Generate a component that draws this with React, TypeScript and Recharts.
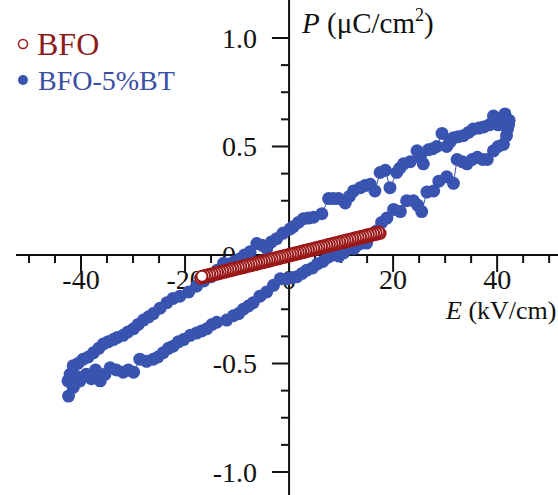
import { ReferenceDot, ReferenceLine, Scatter, ScatterChart, XAxis, YAxis } from "recharts";

// BFO-5%BT loop: upper branch (field going down), then lower branch (field going up)
const btUpper: [number, number][] = [
  [42.3, 0.62], [42.0, 0.58], [41.5, 0.65], [41.0, 0.63], [40.2, 0.6], [39.3, 0.64],
  [38.5, 0.6], [37.4, 0.59], [36.5, 0.585], [35.4, 0.58], [34.5, 0.565], [33.5, 0.55],
  [32.5, 0.545], [31.6, 0.54], [30.9, 0.52], [30.3, 0.5], [29.4, 0.56], [28.4, 0.5],
  [27.6, 0.49], [26.8, 0.485], [25.8, 0.42], [25.2, 0.45], [24.6, 0.48], [23.3, 0.43],
  [22.0, 0.42], [21.3, 0.4], [20.7, 0.38], [19.4, 0.31], [18.5, 0.39], [17.5, 0.38],
  [16.5, 0.295], [15.6, 0.326], [14.6, 0.32], [13.7, 0.31], [12.4, 0.295], [11.6, 0.27],
  [10.8, 0.24], [9.5, 0.26], [8.5, 0.26], [7.6, 0.26], [6.3, 0.19], [4.7, 0.174],
  [3.7, 0.17], [2.75, 0.167], [1.8, 0.15], [0.8, 0.13], [0.2, 0.12], [-1.2, 0.1],
  [-2.4, 0.075], [-3.4, 0.06], [-4.3, 0.03], [-5.2, 0.045], [-6.2, 0.053], [-7.5, 0.015],
  [-8.6, 0.0], [-9.6, -0.02], [-10.5, -0.03], [-11.3, -0.04], [-12.6, -0.038], [-13.8, -0.07],
  [-15, -0.1], [-16.4, -0.12], [-17.8, -0.144], [-19.3, -0.17], [-21, -0.19], [-22.3, -0.2],
  [-23.5, -0.22], [-24.8, -0.245], [-26.1, -0.27], [-27, -0.285], [-28, -0.3], [-29, -0.32],
  [-29.9, -0.34], [-31, -0.355], [-31.9, -0.37], [-33, -0.38], [-33.8, -0.39], [-34.8, -0.4],
  [-35.7, -0.41], [-36.6, -0.43], [-37.6, -0.45], [-38.6, -0.47], [-39.6, -0.48], [-40.6, -0.5],
  [-41.5, -0.51], [-42.1, -0.55], [-42.5, -0.58], [-42.4, -0.65], [-41.5, -0.61], [-40.8, -0.56],
];

const btLower: [number, number][] = [
  [-41, -0.59], [-40.2, -0.58], [-39, -0.55], [-38, -0.57], [-37.2, -0.53], [-36.3, -0.58],
  [-35.4, -0.55], [-34.4, -0.52], [-33.2, -0.53], [-31.9, -0.54], [-30.9, -0.53], [-29.9, -0.54],
  [-28.7, -0.48], [-27.4, -0.49], [-26.1, -0.48], [-25.2, -0.47], [-24.2, -0.45], [-23.2, -0.43],
  [-22.3, -0.42], [-21.3, -0.4], [-20.3, -0.39], [-19, -0.37], [-17.8, -0.36], [-16.8, -0.35],
  [-15.8, -0.34], [-14.8, -0.32], [-13.9, -0.31], [-12, -0.3], [-10.7, -0.28], [-9.7, -0.27],
  [-8.8, -0.25], [-7.8, -0.235], [-6.9, -0.22], [-5.6, -0.19], [-4.3, -0.17], [-3, -0.14],
  [-1.7, -0.11], [-0.4, -0.11], [0.6, -0.105], [1.5, -0.1], [2.5, -0.085], [3.4, -0.07],
  [4.5, -0.06], [5.5, -0.04], [6.5, -0.03], [7.5, -0.01], [8.5, 0.0], [9.6, -0.005],
  [10.5, 0.01], [11.4, 0.04], [12.5, 0.03], [13.5, 0.05], [14.9, 0.055], [15.8, 0.09],
  [16.8, 0.11], [17.8, 0.15], [18.8, 0.17], [20.1, 0.21], [21.4, 0.2], [22.6, 0.25],
  [23.9, 0.25], [24.7, 0.23], [25.5, 0.2], [26.5, 0.29], [27.8, 0.295], [28.8, 0.34],
  [30.3, 0.36], [31.6, 0.33], [32.3, 0.44], [33.3, 0.43], [34.2, 0.42], [35.2, 0.44],
  [36.2, 0.45], [37.2, 0.44], [38.1, 0.44], [39.3, 0.48], [40.2, 0.5], [41.2, 0.51],
  [41.8, 0.55], [42.2, 0.6],
];

// BFO: very slim loop, dense markers
const bfoRiseE = [
  -17, -16.5, -16, -15.5, -15, -14.5, -14, -13.5, -13, -12.5, -12, -11.5, -11, -10.5,
  -10, -9.5, -9, -8.5, -8, -7.5, -7, -6.5, -6, -5.5, -5, -4.5, -4, -3.5, -3, -2.5,
  -2, -1.5, -1, -0.5, 0, 0.5, 1, 1.5, 2, 2.5, 3, 3.5, 4, 4.5, 5, 5.5, 6, 6.5, 7, 7.5,
  8, 8.5, 9, 9.5, 10, 10.5, 11, 11.5, 12, 12.5, 13, 13.5, 14, 14.5, 15, 15.5, 16, 16.5,
  17, 17.5,
];
const bfoRiseP = [
  -0.107, -0.104, -0.101, -0.098, -0.095, -0.092, -0.089, -0.086, -0.083, -0.08, -0.077,
  -0.074, -0.071, -0.068, -0.065, -0.062, -0.059, -0.056, -0.053, -0.05, -0.047, -0.044,
  -0.041, -0.038, -0.035, -0.032, -0.029, -0.026, -0.023, -0.02, -0.017, -0.014, -0.011,
  -0.008, -0.005, -0.002, 0.001, 0.004, 0.007, 0.01, 0.013, 0.016, 0.019, 0.022, 0.025,
  0.028, 0.031, 0.034, 0.037, 0.04, 0.043, 0.046, 0.049, 0.052, 0.055, 0.058, 0.061,
  0.064, 0.067, 0.07, 0.073, 0.076, 0.079, 0.082, 0.085, 0.088, 0.091, 0.094, 0.097, 0.1,
];
const bfoFallE = [
  17.25, 16.75, 16.25, 15.75, 15.25, 14.75, 14.25, 13.75, 13.25, 12.75, 12.25, 11.75,
  11.25, 10.75, 10.25, 9.75, 9.25, 8.75, 8.25, 7.75, 7.25, 6.75, 6.25, 5.75, 5.25, 4.75,
  4.25, 3.75, 3.25, 2.75, 2.25, 1.75, 1.25, 0.75, 0.25, -0.25, -0.75, -1.25, -1.75, -2.25,
  -2.75, -3.25, -3.75, -4.25, -4.75, -5.25, -5.75, -6.25, -6.75, -7.25, -7.75, -8.25,
  -8.75, -9.25, -9.75, -10.25, -10.75, -11.25, -11.75, -12.25, -12.75, -13.25, -13.75,
  -14.25, -14.75, -15.25, -15.75, -16.25, -16.75,
];
const bfoFallP = [
  0.106, 0.103, 0.1, 0.097, 0.094, 0.091, 0.088, 0.085, 0.082, 0.079, 0.076, 0.073, 0.07,
  0.067, 0.064, 0.061, 0.058, 0.055, 0.052, 0.049, 0.046, 0.043, 0.04, 0.037, 0.034, 0.031,
  0.028, 0.025, 0.022, 0.019, 0.016, 0.013, 0.01, 0.007, 0.004, 0.001, -0.002, -0.005,
  -0.008, -0.011, -0.014, -0.017, -0.02, -0.023, -0.026, -0.029, -0.032, -0.035, -0.038,
  -0.041, -0.044, -0.047, -0.05, -0.053, -0.056, -0.059, -0.062, -0.065, -0.068, -0.071,
  -0.074, -0.077, -0.08, -0.083, -0.086, -0.089, -0.092, -0.095, -0.098,
];

const xMajor = [-40, -20, 20, 40];
const xMinor = [-50, -45, -35, -30, -25, -15, -10, -5, 5, 10, 15, 25, 30, 35, 45, 50];
const xLabels = [-40, -20, 0, 20, 40];
const yMajor = [-1, -0.5, 0.5, 1];
const yMinor = [-0.875, -0.75, -0.625, -0.375, -0.25, -0.125, 0.125, 0.25, 0.375, 0.625, 0.75, 0.875];
const yLabels = ["-1.0", "-0.5", "0.0", "0.5", "1.0"];

const BLUE = "#3954b0";
const RED = "#9c1717";
const FONT = '"Liberation Serif", "Times New Roman", serif';

const toPoints = (rows: [number, number][]) => rows.map(([e, p]) => ({ e, p }));
const zip = (es: number[], ps: number[]) => es.map((e, i) => ({ e, p: ps[i] }));
const btData = toPoints([...btUpper, ...btLower]);
const bfoData = [...zip(bfoRiseE, bfoRiseP), ...zip(bfoFallE, bfoFallP)];

export default function App() {
  return (
    <div style={{ position: "absolute", left: 0, top: 0, width: 558, height: 495, fontFamily: FONT }}>
      <ScatterChart width={558} height={495} margin={{ top: 0, right: 0, bottom: 0, left: 16 }}>
        <XAxis type="number" dataKey="e" domain={[-52.5, 51.7]} hide allowDataOverflow />
        <YAxis type="number" dataKey="p" domain={[-1.106, 1.175]} hide allowDataOverflow />

        {xLabels.map((v) => (
          <ReferenceDot
            key={`xl${v}`}
            x={v}
            y={0}
            r={0}
            shape={(s: any) => (
              <text x={s.cx} y={s.cy + 34} textAnchor="middle" fontSize={28} fontFamily={FONT} fill="#111">
                {v}
              </text>
            )}
          />
        ))}
        {yLabels.map((t) => (
          <ReferenceDot
            key={`yl${t}`}
            x={0}
            y={parseFloat(t)}
            r={0}
            shape={(s: any) => (
              <text x={s.cx - 32} y={s.cy + 10} textAnchor="end" fontSize={28} fontFamily={FONT} fill="#111">
                {t}
              </text>
            )}
          />
        ))}

        <ReferenceLine y={0} stroke="#111" strokeWidth={2} />
        <ReferenceLine x={0} stroke="#111" strokeWidth={2} />
        {xMajor.map((v) => (
          <ReferenceLine key={`xM${v}`} segment={[{ x: v, y: 0 }, { x: v, y: -0.078 }]} stroke="#111" strokeWidth={2} />
        ))}
        {xMinor.map((v) => (
          <ReferenceLine key={`xm${v}`} segment={[{ x: v, y: 0 }, { x: v, y: -0.037 }]} stroke="#111" strokeWidth={2} />
        ))}
        {yMajor.map((v) => (
          <ReferenceLine key={`yM${v}`} segment={[{ x: 0, y: v }, { x: -3.3, y: v }]} stroke="#111" strokeWidth={2} />
        ))}
        {yMinor.map((v) => (
          <ReferenceLine key={`ym${v}`} segment={[{ x: 0, y: v }, { x: -1.55, y: v }]} stroke="#111" strokeWidth={2} />
        ))}

        <Scatter
          data={btData}
          fill={BLUE}
          line={{ stroke: BLUE, strokeWidth: 1 }}
          shape={(s: any) => <circle cx={s.cx} cy={s.cy} r={6.5} fill={BLUE} />}
          isAnimationActive={false}
        />
        <Scatter
          data={bfoData}
          fill="#fff"
          shape={(s: any) => <circle cx={s.cx} cy={s.cy} r={5.5} fill="#fff" stroke={RED} strokeWidth={2} />}
          isAnimationActive={false}
        />
      </ScatterChart>

      <svg width={558} height={495} style={{ position: "absolute", left: 0, top: 0, pointerEvents: "none" }}>
        <circle cx={23} cy={44} r={4.5} fill="#fff" stroke={RED} strokeWidth={1.5} />
        <text x={37} y={55} fontSize={32} fontFamily={FONT} fill="#8b1c1c">BFO</text>
        <circle cx={23} cy={80} r={5} fill={BLUE} />
        <text x={38} y={90} fontSize={28} fontFamily={FONT} fill="#3a4ea6">BFO-5%BT</text>

        <text x={302} y={33} fontSize={29} fontFamily={FONT} fill="#111">
          <tspan fontStyle="italic">P</tspan>
          <tspan> (μC/cm</tspan>
          <tspan fontSize={18} dy={-12}>2</tspan>
          <tspan dy={12}>)</tspan>
        </text>
        <text x={446} y={319} fontSize={26} fontFamily={FONT} fill="#111">
          <tspan fontStyle="italic">E</tspan>
          <tspan> (kV/cm)</tspan>
        </text>
      </svg>
    </div>
  );
}
